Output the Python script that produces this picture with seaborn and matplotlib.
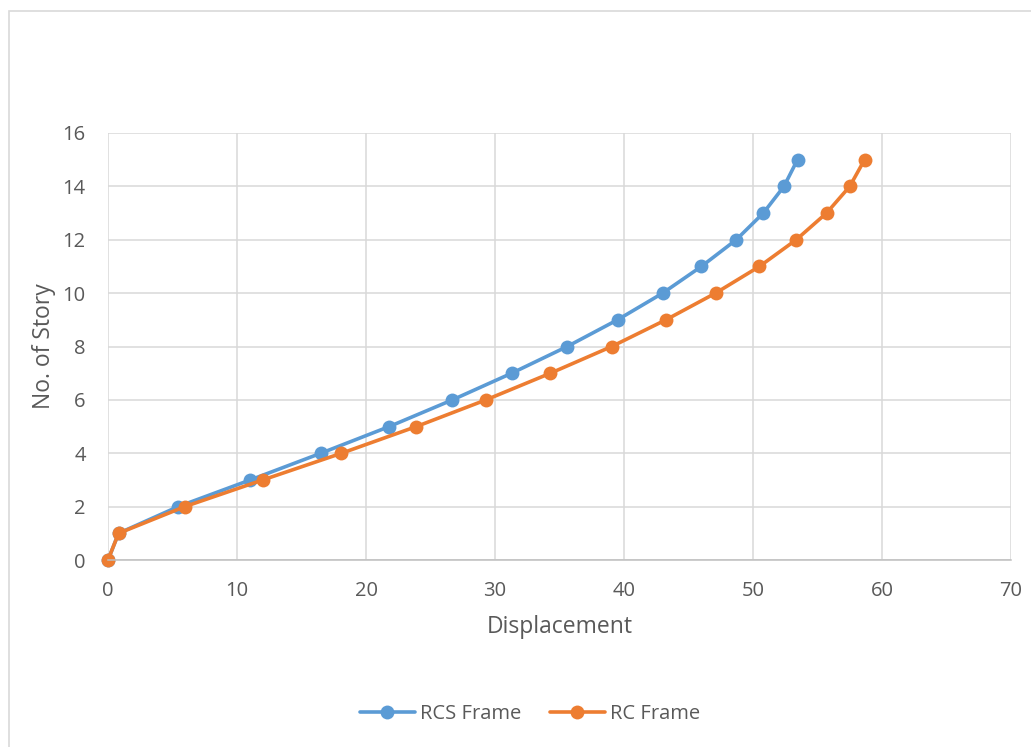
import numpy as np
import pandas as pd
import matplotlib
matplotlib.use("Agg")
import matplotlib.pyplot as plt
import seaborn as sns

stories = [0, 1, 2, 3, 4, 5, 6, 7, 8, 9, 10, 11, 12, 13, 14, 15]
rcs_disp = [0, 0.82, 5.44, 11.03, 16.5, 21.8, 26.7, 31.3, 35.6, 39.5, 43.0, 46.0, 48.7, 50.8, 52.4, 53.45]
rc_disp = [0, 0.82, 5.95, 12.0, 18.1, 23.9, 29.3, 34.3, 39.05, 43.25, 47.1, 50.5, 53.35, 55.7, 57.5, 58.65]
series_names = ["RCS Frame", "RC Frame"]
colors = ["#5B9BD5", "#ED7D31"]

df = pd.concat([
    pd.DataFrame({"Displacement": rcs_disp, "Story": stories, "Series": series_names[0]}),
    pd.DataFrame({"Displacement": rc_disp, "Story": stories, "Series": series_names[1]}),
])

sns.set_theme(style="white")
plt.rcParams['font.family'] = ['Open Sans', 'DejaVu Sans']

W, H = 1031, 747
fig = plt.figure(figsize=(W / 100, H / 100), dpi=100)
ax_l, ax_r, ax_t, ax_b = 108, 1011, 133, 560
ax = fig.add_axes([ax_l / W, 1 - ax_b / H, (ax_r - ax_l) / W, (ax_b - ax_t) / H])

sns.lineplot(data=df, x="Displacement", y="Story", hue="Series", palette=colors,
             sort=False, estimator=None, marker="o", markersize=10, markeredgewidth=0,
             linewidth=2.6, ax=ax, legend=True)

ax.set_xlim(0, 70)
ax.set_ylim(0, 16)
ax.set_xticks(np.arange(0, 71, 10))
ax.set_yticks(np.arange(0, 17, 2))
ax.grid(True, color="#D9D9D9", linewidth=1.1)
ax.set_axisbelow(True)
for s in ["top", "right", "left"]:
    ax.spines[s].set_visible(False)
ax.spines["bottom"].set_color("#BFBFBF")
ax.spines["bottom"].set_linewidth(1.1)
ax.tick_params(axis="both", colors="#595959", labelsize=14.5, length=0)
ax.tick_params(axis="x", pad=15)
ax.tick_params(axis="y", pad=16)
ax.set_xlabel("Displacement", fontsize=16.5, color="#595959", labelpad=10)
ax.set_ylabel("No. of Story", fontsize=16.5, color="#595959", labelpad=5)

for line in ax.lines:
    line.set_clip_on(False)

handles, labels = ax.get_legend_handles_labels()
for h in handles:
    h.set_markersize(10)
leg_x = (530 - ax_l) / (ax_r - ax_l)
leg_y = (ax_b - 714) / (ax_b - ax_t)
ax.legend(handles, labels, loc="center", bbox_to_anchor=(leg_x, leg_y),
          ncol=2, frameon=False, fontsize=14.5, labelcolor="#595959", handlelength=2.7,
          columnspacing=1.45, handletextpad=0.25)

fig.patches.append(plt.Rectangle((9 / W, -0.1), 1.2, 1.1 - 11 / H, transform=fig.transFigure,
                                 fill=False, edgecolor="#D9D9D9", linewidth=1.2))

fig.savefig("out.png", dpi=100, facecolor="white")
